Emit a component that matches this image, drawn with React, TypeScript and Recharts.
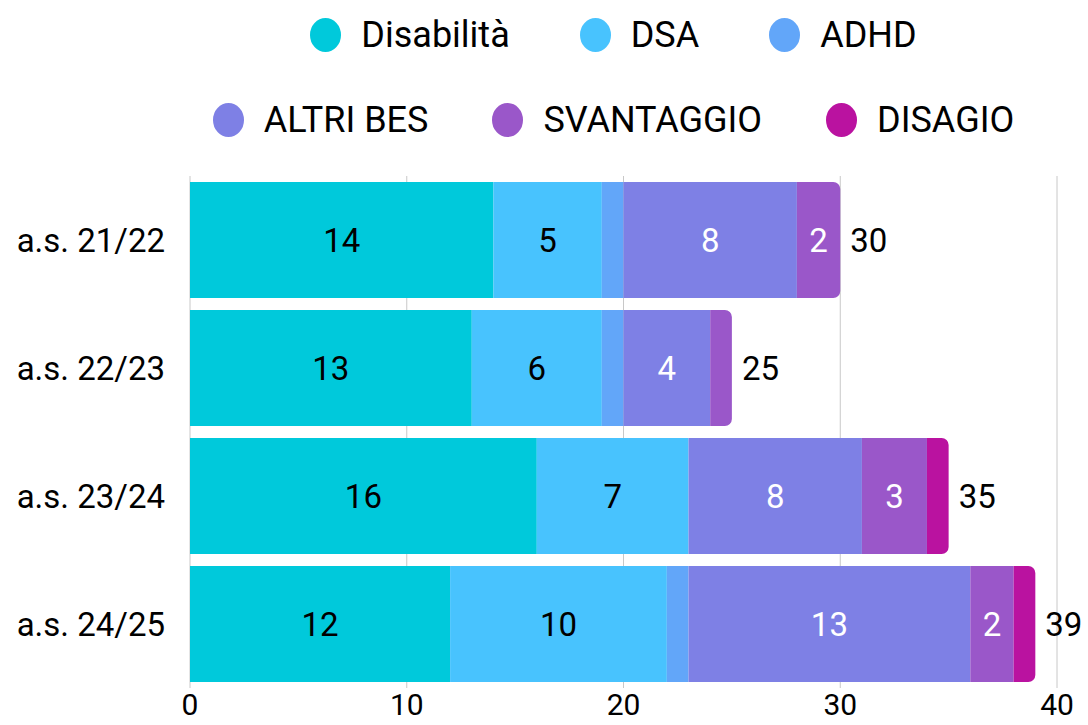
import { Bar, BarChart, CartesianGrid, LabelList, Legend, Rectangle, XAxis, YAxis } from "recharts";

const years = ["a.s. 21/22", "a.s. 22/23", "a.s. 23/24", "a.s. 24/25"];
const disabilita = [14, 13, 16, 12];
const dsa = [5, 6, 7, 10];
const adhd = [1, 1, 0, 1];
const altriBes = [8, 4, 8, 13];
const svantaggio = [2, 1, 3, 2];
const disagio = [0, 0, 1, 1];
const xTicks = [0, 10, 20, 30, 40];

const SERIES = [
  { key: "Disabilità", values: disabilita, color: "#00c9db", text: "#000" },
  { key: "DSA", values: dsa, color: "#48c3fe", text: "#000" },
  { key: "ADHD", values: adhd, color: "#62a6f9", text: "#000" },
  { key: "ALTRI BES", values: altriBes, color: "#7e80e5", text: "#fff" },
  { key: "SVANTAGGIO", values: svantaggio, color: "#9a57c9", text: "#fff" },
  { key: "DISAGIO", values: disagio, color: "#ba12a0", text: "#fff" },
];

const FONT = "Roboto, 'Noto Sans', sans-serif";

const data = years.map((year, i) => {
  const row: Record<string, string | number> = { year };
  let total = 0;
  SERIES.forEach((s) => {
    row[s.key] = s.values[i];
    total += s.values[i];
  });
  row.total = total;
  return row;
});

// index of the last non-zero series for each row (gets rounded corners)
const lastSeries = years.map((_, i) => {
  let last = 0;
  SERIES.forEach((s, j) => {
    if (s.values[i] > 0) last = j;
  });
  return last;
});

const legendRows = [SERIES.slice(0, 3), SERIES.slice(3)];

function LegendContent() {
  return (
    <div style={{ height: 176, fontFamily: FONT, fontSize: 36, color: "#000" }}>
      {legendRows.map((row, r) => (
        <div
          key={r}
          style={{
            display: "flex",
            justifyContent: "center",
            alignItems: "center",
            height: 70,
            marginTop: r === 0 ? 0 : 15,
            paddingLeft: 170,
            gap: r === 0 ? 70 : 64,
          }}
        >
          {row.map((s) => (
            <div key={s.key} style={{ display: "flex", alignItems: "center", gap: 20 }}>
              <span
                style={{
                  display: "inline-block",
                  width: 31,
                  height: 34,
                  borderRadius: "50%",
                  background: s.color,
                }}
              />
              <span>{s.key}</span>
            </div>
          ))}
        </div>
      ))}
    </div>
  );
}

export default function App() {
  return (
    <div style={{ position: "absolute", left: 0, top: 0, width: 1088, height: 725, background: "#fff" }}>
      <BarChart
        width={1088}
        height={725}
        data={data}
        layout="vertical"
        barCategoryGap={6}
        margin={{ top: 0, right: 31, bottom: 0, left: 0 }}
      >
        <Legend verticalAlign="top" align="center" content={<LegendContent />} />
        <CartesianGrid horizontal={false} stroke="#c8c8c8" />
        <XAxis
          type="number"
          domain={[0, 40]}
          ticks={xTicks}
          axisLine={false}
          tickLine={false}
          tickSize={0}
          tickMargin={6}
          height={37}
          tick={{ fill: "#000", fontSize: 30, fontFamily: FONT }}
        />
        <YAxis
          type="category"
          dataKey="year"
          width={190}
          axisLine={false}
          tickLine={false}
          tickSize={0}
          tickMargin={25}
          tick={{ fill: "#000", fontSize: 33, fontFamily: FONT }}
        />
        {SERIES.map((s, j) => (
          <Bar
            key={s.key}
            dataKey={s.key}
            stackId="a"
            fill={s.color}
            isAnimationActive={false}
            shape={(props: any) => (
              <Rectangle {...props} radius={lastSeries[props.index] === j ? [0, 7, 7, 0] : 0} />
            )}
          >
            <LabelList
              dataKey={s.key}
              position="center"
              fill={s.text}
              fontSize={33}
              fontFamily={FONT}
              formatter={(v: any) => (Number(v) >= 2 ? v : "")}
            />
            {j === SERIES.length - 1 && (
              <LabelList
                dataKey="total"
                content={(props: any) => {
                  const vb = props.viewBox ?? props;
                  return (
                    <text
                      x={vb.x + vb.width + 10}
                      y={vb.y + vb.height / 2}
                      dy="0.35em"
                      fill="#000"
                      fontSize={33}
                      fontFamily={FONT}
                    >
                      {props.value}
                    </text>
                  );
                }}
              />
            )}
          </Bar>
        ))}
      </BarChart>
    </div>
  );
}
